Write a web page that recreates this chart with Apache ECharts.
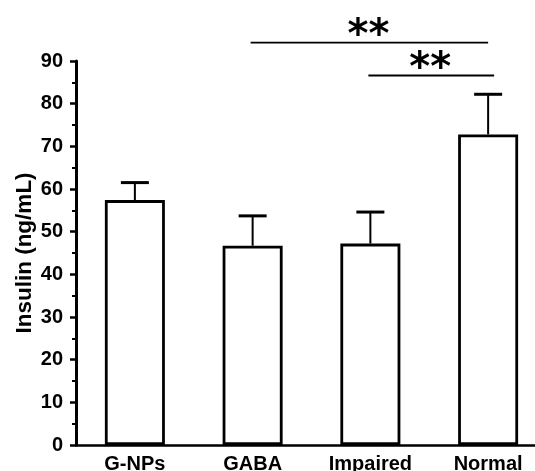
<!DOCTYPE html>
<html><head><meta charset="utf-8">
<script src="https://cdn.jsdelivr.net/npm/echarts@6/dist/echarts.min.js"></script>
<style>html,body{margin:0;padding:0;background:#fff}#c{width:535px;height:471px}</style>
</head><body><div id="c"></div>
<script>
const categories = ['G-NPs', 'GABA', 'Impaired', 'Normal'];
const means = [57.4, 46.7, 47.2, 72.8];
const errors = [4.1, 7.0, 7.4, 9.4];
const yTicks = [0, 10, 20, 30, 40, 50, 60, 70, 80, 90];
// significance brackets: [fromCategory, toCategory, yValue, label]
const sigFrom = ['GABA', 'Impaired'];
const sigTo = ['Normal', 'Normal'];
const sigY = [94.3, 86.6];
const sigLabel = ['**', '**'];

const chart = echarts.init(document.getElementById('c'), null, {renderer: 'canvas'});
const font = 'Liberation Sans, Arial, sans-serif';
chart.setOption({
  animation: false,
  grid: {left: 76, top: 61, width: 471, height: 384, containLabel: false, outerBoundsMode: 'none'},
  xAxis: {
    type: 'category', data: categories,
    axisLine: {lineStyle: {color: '#000', width: 2.5}},
    axisTick: {show: false},
    axisLabel: {color: '#000', fontWeight: 'bold', fontSize: 20, fontFamily: font, margin: 9}
  },
  yAxis: {
    type: 'value', min: yTicks[0], max: yTicks[yTicks.length - 1], interval: 10,
    name: 'Insulin (ng/mL)', nameLocation: 'middle', nameGap: 40, nameMoveOverlap: false,
    nameTextStyle: {color: '#000', fontWeight: 'bold', fontSize: 22.5, fontFamily: font},
    axisLine: {show: true, lineStyle: {color: '#000', width: 3}},
    axisTick: {show: true, inside: false, length: 6, lineStyle: {color: '#000', width: 2.5}},
    minorTick: {show: true, splitNumber: 2, length: 4, lineStyle: {color: '#000', width: 2}},
    splitLine: {show: false},
    axisLabel: {color: '#000', fontWeight: 'bold', fontSize: 20, fontFamily: font, margin: 13}
  },
  series: [
    {
      type: 'bar', data: means, barWidth: 60,
      itemStyle: {color: '#fff', borderColor: '#000', borderWidth: 2.8},
      z: 2
    },
    {
      type: 'custom', z: 3, clip: false,
      data: means.map((m, i) => [i, m, m + errors[i]]),
      renderItem: function (params, api) {
        const x = api.value(0);
        const b = api.coord([x, api.value(1)]);
        const t = api.coord([x, api.value(2)]);
        const hw = 14;
        return {type: 'group', children: [
          {type: 'line', shape: {x1: b[0], y1: b[1], x2: t[0], y2: t[1]}, style: {stroke: '#000', lineWidth: 2}},
          {type: 'line', shape: {x1: t[0] - hw, y1: t[1], x2: t[0] + hw, y2: t[1]}, style: {stroke: '#000', lineWidth: 3}}
        ]};
      }
    },
    {
      type: 'custom', z: 4, clip: false,
      data: sigY.map((y, i) => [categories.indexOf(sigFrom[i]), categories.indexOf(sigTo[i]), y, i]),
      renderItem: function (params, api) {
        const a = api.coord([api.value(0), api.value(2)]);
        const b = api.coord([api.value(1), api.value(2)]);
        const i = api.value(3);
        const ext = i === 1 ? 6 : 0;
        return {type: 'group', children: [
          {type: 'line', shape: {x1: a[0] - 2, y1: a[1], x2: b[0] + ext, y2: b[1]}, style: {stroke: '#000', lineWidth: 1.8}},
          {type: 'text', style: {text: sigLabel[i], x: (a[0] + b[0] + ext) / 2 - 2, y: a[1] - 26,
            align: 'center', verticalAlign: 'top', fill: '#000',
            font: 'bold 40px DejaVu Sans'}}
        ]};
      }
    }
  ]
});
</script></body></html>
